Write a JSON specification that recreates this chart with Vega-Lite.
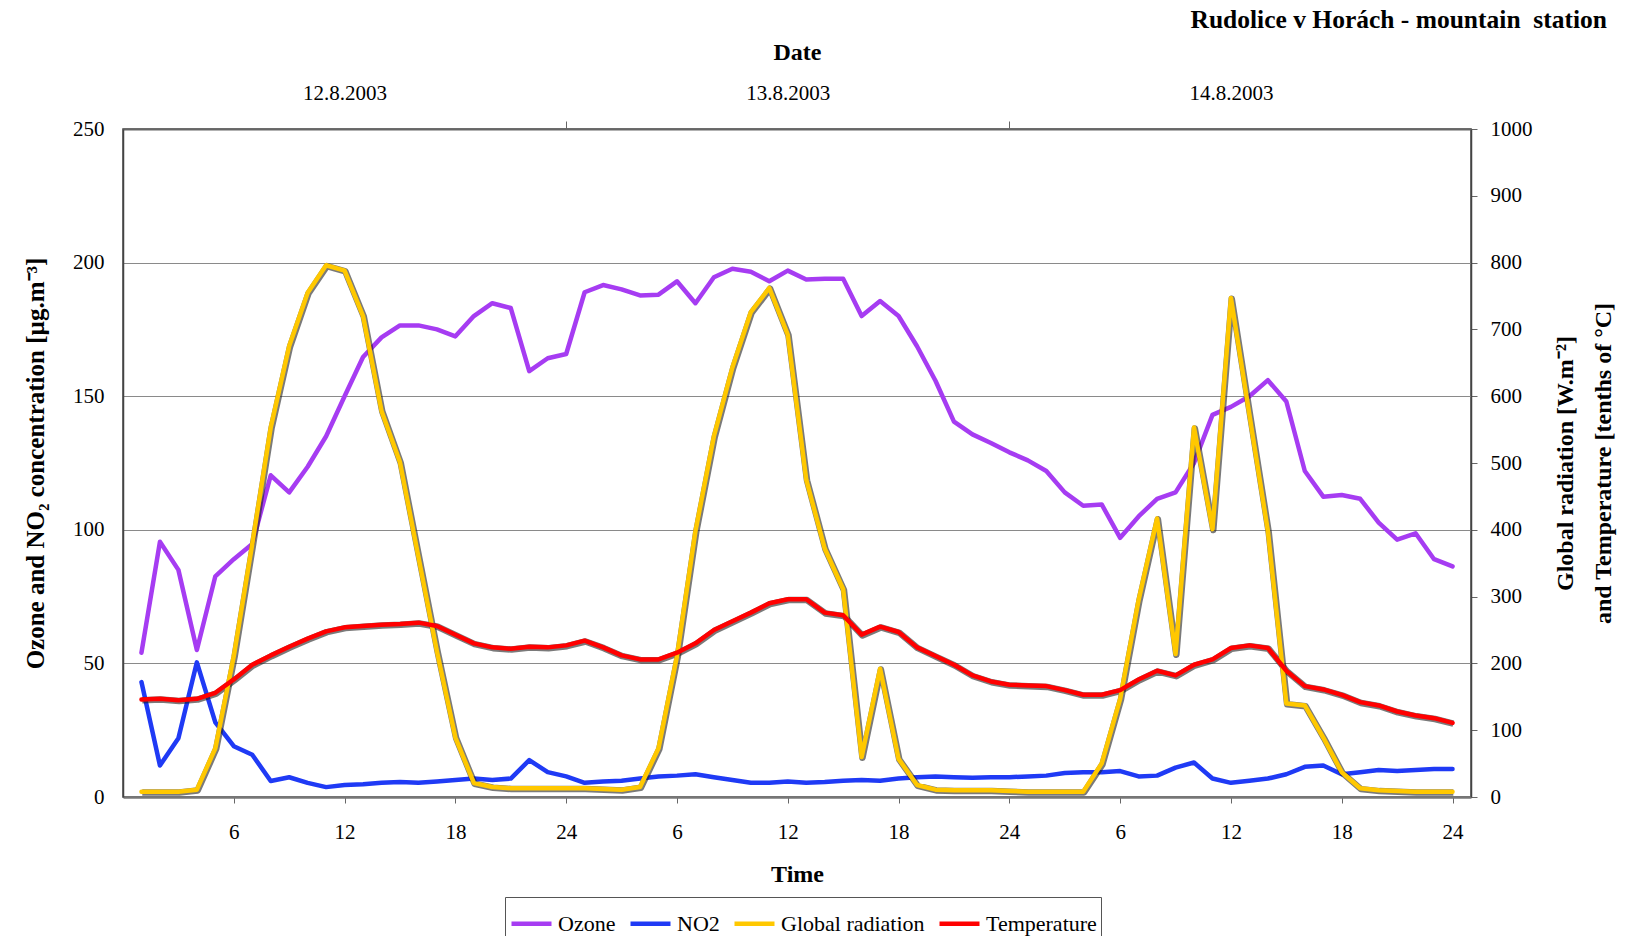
{
  "$schema": "https://vega.github.io/schema/vega-lite/v6.json",
  "width": 1348,
  "height": 668,
  "autosize": {"type": "none"},
  "padding": {"left": 123, "top": 129, "right": 155, "bottom": 139},
  "background": "white",
  "config": {
    "font": "Liberation Serif",
    "view": {"stroke": "#444", "strokeWidth": 1.5},
    "axis": {"labelColor": "black", "titleColor": "black", "labelFont": "Liberation Serif", "titleFont": "Liberation Serif"}
  },
  "title": {
    "text": "Rudolice v Horách - mountain\u00a0 station",
    "anchor": "end",
    "frame": "group",
    "dx": 136,
    "offset": 7,
    "fontSize": 25.5,
    "fontWeight": "bold",
    "font": "Liberation Serif",
    "color": "black"
  },
  "data": {
    "values": [
      {"h": 1, "Ozone": 54, "NO2": 43, "Global radiation": 8, "Temperature": 146},
      {"h": 2, "Ozone": 95.5, "NO2": 11.8, "Global radiation": 8, "Temperature": 147},
      {"h": 3, "Ozone": 85, "NO2": 22, "Global radiation": 8, "Temperature": 145},
      {"h": 4, "Ozone": 55, "NO2": 50.4, "Global radiation": 11, "Temperature": 147},
      {"h": 5, "Ozone": 82.6, "NO2": 27.9, "Global radiation": 73, "Temperature": 156},
      {"h": 6, "Ozone": 89, "NO2": 19, "Global radiation": 211, "Temperature": 176},
      {"h": 7, "Ozone": 94.7, "NO2": 15.8, "Global radiation": 379, "Temperature": 198},
      {"h": 8, "Ozone": 120.4, "NO2": 6, "Global radiation": 553, "Temperature": 212},
      {"h": 9, "Ozone": 114, "NO2": 7.4, "Global radiation": 675, "Temperature": 225},
      {"h": 10, "Ozone": 123.6, "NO2": 5.3, "Global radiation": 755, "Temperature": 237},
      {"h": 11, "Ozone": 135, "NO2": 3.7, "Global radiation": 796, "Temperature": 248},
      {"h": 12, "Ozone": 150, "NO2": 4.5, "Global radiation": 788, "Temperature": 254},
      {"h": 13, "Ozone": 164.7, "NO2": 4.8, "Global radiation": 720, "Temperature": 256},
      {"h": 14, "Ozone": 172, "NO2": 5.3, "Global radiation": 578, "Temperature": 258},
      {"h": 15, "Ozone": 176.5, "NO2": 5.6, "Global radiation": 501, "Temperature": 259},
      {"h": 16, "Ozone": 176.5, "NO2": 5.3, "Global radiation": 359, "Temperature": 261},
      {"h": 17, "Ozone": 175, "NO2": 5.8, "Global radiation": 218, "Temperature": 256},
      {"h": 18, "Ozone": 172.4, "NO2": 6.4, "Global radiation": 89, "Temperature": 243},
      {"h": 19, "Ozone": 180, "NO2": 6.9, "Global radiation": 21, "Temperature": 230},
      {"h": 20, "Ozone": 184.8, "NO2": 6.4, "Global radiation": 15, "Temperature": 224},
      {"h": 21, "Ozone": 183, "NO2": 6.9, "Global radiation": 13, "Temperature": 222},
      {"h": 22, "Ozone": 159.4, "NO2": 13.8, "Global radiation": 13, "Temperature": 225},
      {"h": 23, "Ozone": 164.2, "NO2": 9.3, "Global radiation": 13, "Temperature": 224},
      {"h": 24, "Ozone": 165.8, "NO2": 7.7, "Global radiation": 13, "Temperature": 227},
      {"h": 25, "Ozone": 188.9, "NO2": 5.3, "Global radiation": 13, "Temperature": 234},
      {"h": 26, "Ozone": 191.6, "NO2": 5.8, "Global radiation": 12, "Temperature": 224},
      {"h": 27, "Ozone": 190, "NO2": 6.1, "Global radiation": 11, "Temperature": 212},
      {"h": 28, "Ozone": 187.7, "NO2": 6.9, "Global radiation": 15, "Temperature": 206},
      {"h": 29, "Ozone": 188, "NO2": 7.7, "Global radiation": 73, "Temperature": 206},
      {"h": 30, "Ozone": 193, "NO2": 8, "Global radiation": 211, "Temperature": 216},
      {"h": 31, "Ozone": 184.8, "NO2": 8.5, "Global radiation": 398, "Temperature": 230},
      {"h": 32, "Ozone": 194.5, "NO2": 7.4, "Global radiation": 540, "Temperature": 250},
      {"h": 33, "Ozone": 197.7, "NO2": 6.4, "Global radiation": 643, "Temperature": 263},
      {"h": 34, "Ozone": 196.6, "NO2": 5.3, "Global radiation": 726, "Temperature": 276},
      {"h": 35, "Ozone": 193, "NO2": 5.3, "Global radiation": 762, "Temperature": 290},
      {"h": 36, "Ozone": 197, "NO2": 5.8, "Global radiation": 692, "Temperature": 296},
      {"h": 37, "Ozone": 193.7, "NO2": 5.3, "Global radiation": 475, "Temperature": 296},
      {"h": 38, "Ozone": 194, "NO2": 5.6, "Global radiation": 372, "Temperature": 276},
      {"h": 39, "Ozone": 194, "NO2": 6.1, "Global radiation": 311, "Temperature": 272},
      {"h": 40, "Ozone": 180, "NO2": 6.4, "Global radiation": 60, "Temperature": 243},
      {"h": 41, "Ozone": 185.6, "NO2": 6.1, "Global radiation": 192, "Temperature": 255},
      {"h": 42, "Ozone": 180, "NO2": 6.9, "Global radiation": 57, "Temperature": 247},
      {"h": 43, "Ozone": 168.7, "NO2": 7.4, "Global radiation": 18, "Temperature": 224},
      {"h": 44, "Ozone": 155.8, "NO2": 7.7, "Global radiation": 11, "Temperature": 211},
      {"h": 45, "Ozone": 140.5, "NO2": 7.4, "Global radiation": 10, "Temperature": 198},
      {"h": 46, "Ozone": 135.7, "NO2": 7.2, "Global radiation": 10, "Temperature": 182},
      {"h": 47, "Ozone": 132.5, "NO2": 7.4, "Global radiation": 10, "Temperature": 173},
      {"h": 48, "Ozone": 129, "NO2": 7.4, "Global radiation": 9, "Temperature": 168},
      {"h": 49, "Ozone": 126, "NO2": 7.7, "Global radiation": 8, "Temperature": 167},
      {"h": 50, "Ozone": 122, "NO2": 8, "Global radiation": 8, "Temperature": 166},
      {"h": 51, "Ozone": 114, "NO2": 9, "Global radiation": 8, "Temperature": 160},
      {"h": 52, "Ozone": 109, "NO2": 9.3, "Global radiation": 8, "Temperature": 153},
      {"h": 53, "Ozone": 109.5, "NO2": 9.3, "Global radiation": 50, "Temperature": 153},
      {"h": 54, "Ozone": 97, "NO2": 9.7, "Global radiation": 147, "Temperature": 160},
      {"h": 55, "Ozone": 105, "NO2": 7.7, "Global radiation": 295, "Temperature": 176},
      {"h": 56, "Ozone": 111.6, "NO2": 8, "Global radiation": 417, "Temperature": 189},
      {"h": 57, "Ozone": 114, "NO2": 11, "Global radiation": 214, "Temperature": 182},
      {"h": 58, "Ozone": 125, "NO2": 12.9, "Global radiation": 553, "Temperature": 198},
      {"h": 59, "Ozone": 143, "NO2": 6.9, "Global radiation": 401, "Temperature": 206},
      {"h": 60, "Ozone": 146, "NO2": 5.3, "Global radiation": 747, "Temperature": 223},
      {"h": 61, "Ozone": 150, "NO2": 6.1, "Global radiation": 572, "Temperature": 227},
      {"h": 62, "Ozone": 156, "NO2": 6.9, "Global radiation": 398, "Temperature": 223},
      {"h": 63, "Ozone": 148, "NO2": 8.5, "Global radiation": 140, "Temperature": 189},
      {"h": 64, "Ozone": 122, "NO2": 11.3, "Global radiation": 137, "Temperature": 166},
      {"h": 65, "Ozone": 112.4, "NO2": 11.8, "Global radiation": 89, "Temperature": 161},
      {"h": 66, "Ozone": 113, "NO2": 8.5, "Global radiation": 37, "Temperature": 153},
      {"h": 67, "Ozone": 111.6, "NO2": 9.3, "Global radiation": 13, "Temperature": 142},
      {"h": 68, "Ozone": 102.7, "NO2": 10.1, "Global radiation": 10, "Temperature": 137},
      {"h": 69, "Ozone": 96.3, "NO2": 9.7, "Global radiation": 9, "Temperature": 128},
      {"h": 70, "Ozone": 98.7, "NO2": 10.1, "Global radiation": 8, "Temperature": 122},
      {"h": 71, "Ozone": 89, "NO2": 10.5, "Global radiation": 8, "Temperature": 118},
      {"h": 72, "Ozone": 86.3, "NO2": 10.5, "Global radiation": 8, "Temperature": 111}
    ]
  },
  "transform": [
    {"fold": ["Ozone", "NO2", "Global radiation", "Temperature"], "as": ["series", "value"]}
  ],
  "layer": [
    {
      "transform": [{"filter": {"field": "series", "oneOf": ["Ozone", "NO2"]}}],
      "mark": {"type": "line", "strokeWidth": 4.5, "strokeJoin": "round", "strokeCap": "round"},
      "encoding": {
        "x": {
          "field": "h", "type": "quantitative",
          "scale": {"domain": [0, 73], "nice": false, "zero": false},
          "axis": {
            "orient": "bottom",
            "values": [6, 12, 18, 24, 30, 36, 42, 48, 54, 60, 66, 72],
            "labelExpr": "datum.value % 24 == 0 ? '24' : '' + (datum.value % 24)",
            "title": "Time",
            "titleFontSize": 24, "titleFontWeight": "bold",
            "labelFontSize": 21, "labelFlush": false,
            "tickSize": 6, "tickColor": "#666",
            "labelPadding": 18, "titlePadding": 20,
            "domainColor": "#777", "domainWidth": 2.5,
            "grid": false
          }
        },
        "y": {
          "field": "value", "type": "quantitative",
          "scale": {"domain": [0, 250], "nice": false},
          "axis": {
            "orient": "left",
            "values": [0, 50, 100, 150, 200, 250],
            "title": "Ozone and NO₂ concentration [µg.m⁻³]",
            "titleFontSize": 25, "titleFontWeight": "bold",
            "labelFontSize": 21,
            "grid": true, "gridColor": "#8a8a8a", "gridWidth": 1,
            "ticks": false,
            "labelPadding": 19, "titlePadding": 24,
            "domainColor": "#444", "domainWidth": 1.5
          }
        },
        "color": {
          "field": "series", "type": "nominal",
          "scale": {
            "domain": ["Ozone", "NO2", "Global radiation", "Temperature"],
            "range": ["#A63CF2", "#1F3AF5", "#FFC800", "#FF0000"]
          },
          "legend": {
            "orient": "none", "legendX": 382, "legendY": 768,
            "direction": "horizontal", "columns": 4, "title": null,
            "symbolType": "stroke", "symbolSize": 1600, "symbolStrokeWidth": 4.5,
            "labelFont": "Liberation Serif", "labelFontSize": 22, "labelColor": "black",
            "labelOffset": 4, "columnPadding": 5,
            "strokeColor": "#555", "fillColor": "white", "padding": 4
          }
        }
      }
    },
    {
      "transform": [{"filter": {"field": "series", "oneOf": ["Global radiation", "Temperature"]}}],
      "encoding": {
        "x": {
          "field": "h", "type": "quantitative",
          "scale": {"domain": [0, 73], "nice": false, "zero": false},
          "axis": {
            "orient": "top",
            "values": [12, 24, 36, 48, 60],
            "labelExpr": "datum.value == 12 ? '12.8.2003' : datum.value == 36 ? '13.8.2003' : datum.value == 60 ? '14.8.2003' : ''",
            "title": "Date",
            "titleFontSize": 24, "titleFontWeight": "bold",
            "labelFontSize": 21,
            "tickSize": 8, "tickColor": "#666",
            "tickOpacity": {"condition": {"test": "datum.value % 24 == 0", "value": 1}, "value": 0},
            "labelPadding": 18, "titlePadding": 18,
            "domainColor": "#666", "domainWidth": 2,
            "grid": false
          }
        },
        "y": {
          "field": "value", "type": "quantitative",
          "scale": {"domain": [0, 1000], "nice": false},
          "axis": {
            "orient": "right",
            "values": [0, 100, 200, 300, 400, 500, 600, 700, 800, 900, 1000],
            "format": "d",
            "title": ["Global radiation [W.m⁻²]", "and Temperature [tenths of °C]"],
            "titleAngle": 270,
            "titleLineHeight": 38,
            "titleFontSize": 24, "titleFontWeight": "bold",
            "labelFontSize": 21,
            "grid": false,
            "tickSize": 6, "tickColor": "#666",
            "labelPadding": 13, "titlePadding": 7,
            "domainColor": "#444", "domainWidth": 1.5
          }
        }
      },
      "layer": [
        {
          "mark": {"type": "line", "strokeWidth": 6.5, "color": "#222", "opacity": 0.6, "strokeJoin": "round", "xOffset": 0.8, "yOffset": 0.8},
          "encoding": {"detail": {"field": "series", "type": "nominal"}}
        },
        {
          "mark": {"type": "line", "strokeWidth": 4.5, "strokeJoin": "round", "strokeCap": "round"},
          "encoding": {"color": {"field": "series", "type": "nominal"}}
        }
      ]
    }
  ],
  "resolve": {"scale": {"y": "independent"}, "axis": {"x": "independent", "y": "independent"}}
}
